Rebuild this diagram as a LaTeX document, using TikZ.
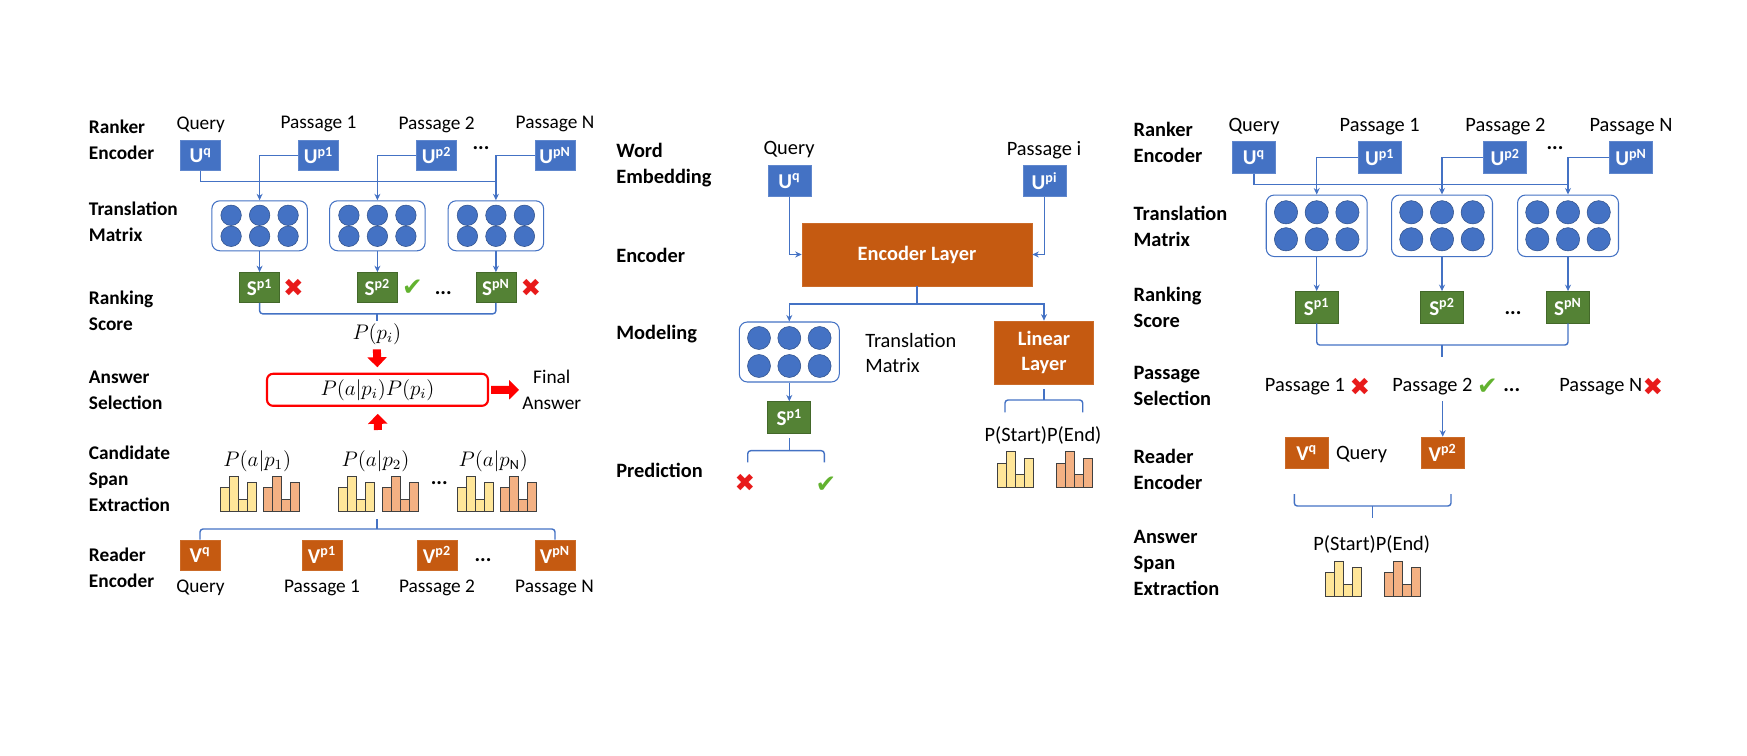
\documentclass[tikz,border=0pt]{standalone}
\usepackage{fontspec}
\setmainfont{Carlito}
\newfontfamily\symfont{DejaVu Sans}
\usetikzlibrary{arrows.meta, calc, positioning}

\definecolor{ublue}{HTML}{4472C4}
\definecolor{sgreen}{HTML}{548235}
\definecolor{vorange}{HTML}{C55A11}
\definecolor{barY}{HTML}{FFE699}
\definecolor{barO}{HTML}{F4B183}
\definecolor{barline}{HTML}{404040}
\definecolor{okgreen}{HTML}{62B22F}
\definecolor{badred}{HTML}{E81A1A}

\tikzset{
  lbl/.style={anchor=west, align=left, inner sep=0, font=\bfseries\fontsize{11}{14.7}\selectfont},
  lblr/.style={lbl, font=\bfseries\fontsize{11.6}{14.7}\selectfont},
  txt/.style={inner sep=0, font=\fontsize{11}{14.7}\selectfont},
  txtr/.style={inner sep=0, font=\fontsize{11.6}{14.7}\selectfont},
  box/.style={inner sep=0, minimum width=0.8cm, minimum height=0.6cm, text=white, font=\bfseries\fontsize{12}{12}\selectfont},
  bigbox/.style={box, minimum width=0.86cm, minimum height=0.63cm},
  ublk/.style={fill=ublue, draw=ublue!85!white},
  sblk/.style={fill=sgreen, draw=sgreen!80!black},
  vblk/.style={fill=vorange, draw=vorange!90!white},
  mat/.style={draw=ublue, fill=white, rounded corners=0.16cm, line width=0.6pt, minimum width=1.91cm, minimum height=1cm},
  bigmat/.style={mat, minimum width=2.02cm, minimum height=1.23cm},
  dot/.style={fill=ublue, draw=ublue!70!black, line width=0.3pt},
  link/.style={draw=ublue, line width=0.8pt},
  arr/.style={link, -{Stealth[length=1.3mm, width=1.2mm]}},
  brc/.style={link, rounded corners=0.06cm},
  fat/.style={draw=red, line width=0.16cm, -{Triangle[length=0.2cm, width=0.38cm]}},
  no/.style={inner sep=0, text=badred, font=\symfont\fontsize{14}{14}\selectfont},
  yes/.style={inner sep=0, text=okgreen, font=\symfont\fontsize{14}{14}\selectfont},
  more/.style={inner sep=0, font=\bfseries\fontsize{12}{12}\selectfont},
  mth/.style={inner sep=0, font=\fontsize{12}{12}\selectfont},
  histo/.pic={
    \foreach \h [count=\i from 0] in {24,35.5,12.3,29}
      \draw[barline, fill=#1, line width=0.5pt] (\i*9,0) rectangle ++(9,-\h);
  }
}

\begin{document}
\begin{tikzpicture}[x=0.02cm, y=-0.02cm]
\useasboundingbox (0,0) rectangle (1747,756);

% ---------- left: ranker + reader ----------
\node[lbl] (la) at (88.6,140) {Ranker\\Encoder};
\node[lbl] (lb) at (88.6,221.7) {Translation\\Matrix};
\node[lbl] (lc) at (88.6,311) {Ranking\\Score};
\node[lbl] (ld) at (88.6,390) {Answer\\Selection};
\node[lbl] (le) at (88.6,479) {Candidate\\Span\\Extraction};
\node[lbl] (lf) at (88.6,568) {Reader\\Encoder};

\node[txt] (tq) at (200.7,124.4) {Query};
\node[txt] (t1) at (318.5,124.4) {Passage 1};
\node[txt] (t2) at (436.6,124.4) {Passage 2};
\node[txt] (tn) at (555,124.4) {Passage N};
\node[box, ublk] (uq) at (200.7,155.6) {U\textsuperscript{q}};
\node[box, ublk] (u1) at (318.5,155.6) {U\textsuperscript{p1}};
\node[box, ublk] (u2) at (436.6,155.6) {U\textsuperscript{p2}};
\node[more] (d1) at (481,148) {...};
\node[box, ublk] (un) at (555,155.6) {U\textsuperscript{pN}};

\node[mat] (m1) at (259.6,225.8) {};
\node[mat] (m2) at (377.4,225.8) {};
\node[mat] (m3) at (495.9,225.8) {};
\foreach \m in {m1,m2,m3}
  \foreach \dx in {-28.5,0,28.5}
    \foreach \dy in {-10.5,10.5}
      \draw[dot] (\m) ++(\dx,\dy) circle[radius=0.205cm];

\coordinate (jq) at (495.9,181.3);
\draw[link] (uq.south) |- (jq);
\draw[arr] (u1.west) -| (m1.north);
\draw[arr] (u2.west) -| (m2.north);
\draw[arr] (un.west) -| (m3.north);

\node[box, sblk] (s1) at (259.6,287.5) {S\textsuperscript{p1}};
\node[box, sblk] (s2) at (377.4,287.5) {S\textsuperscript{p2}};
\node[box, sblk] (sn) at (495.9,287.5) {S\textsuperscript{pN}};
\draw[arr] (m1.south) -- (s1.north);
\draw[arr] (m2.south) -- (s2.north);
\draw[arr] (m3.south) -- (sn.north);
\node[no] (x1) at (293.5,287.5) {✖};
\node[yes] (c2) at (412.3,287.5) {✔};
\node[more] (d2) at (443.3,293) {...};
\node[no] (xn) at (531,287.5) {✖};

\coordinate (ka) at (376.8,313.8);
\draw[brc] (s1.south) |- (ka) -| (sn.south);
\draw[link] (ka) -- ++(0,7.6);
\node[mth] (pp) at (376.8,334.5) {$P(p_i)$};

\node[draw=red, line width=1.2pt, rounded corners=0.12cm, minimum width=4.42cm, minimum height=0.64cm, mth] (ans) at (377.5,389.8) {$P(a|p_i)P(p_i)$};
\node[txt, align=center] (fin) at (551.8,390) {Final\\Answer};
\coordinate (upin) at (377.9,430);
\draw[fat, shorten <=0.08cm, shorten >=0.11cm] (pp.south) -- (ans.north);
\draw[fat, shorten >=0.14cm] (upin) -- (ans.south);
\draw[fat, shorten <=0.04cm, shorten >=0.06cm] (ans.east) -- (fin.west);

\node[mth] (pa1) at (257.3,460.9) {$P(a|p_1)$};
\node[mth] (pa2) at (375.5,460.9) {$P(a|p_2)$};
\node[mth] (pan) at (493.2,460.9) {$P(a|p_\mathrm{N})$};
\pic at (220.5,511.8) {histo=barY};
\pic at (263.5,511.8) {histo=barO};
\pic at (338.3,511.8) {histo=barY};
\pic at (382,511.8) {histo=barO};
\node[more] (d3) at (439.2,483) {...};
\pic at (457,511.8) {histo=barY};
\pic at (500,511.8) {histo=barO};

\node[box, vblk] (vq) at (200,555) {V\textsuperscript{q}};
\node[box, vblk] (v1) at (322,555) {V\textsuperscript{p1}};
\node[box, vblk] (v2) at (437,555) {V\textsuperscript{p2}};
\node[more] (d4) at (483,560) {...};
\node[box, vblk] (vn) at (555,555) {V\textsuperscript{pN}};
\coordinate (kb) at (376.8,529);
\draw[brc] (vq.north) |- (kb) -| (vn.north);
\draw[link] (kb) -- ++(0,-9.6);
\node[txt] (bq) at (200.5,587.6) {Query};
\node[txt] (b1) at (322,587.6) {Passage 1};
\node[txt] (b2) at (437,587.6) {Passage 2};
\node[txt] (bn) at (554.5,587.6) {Passage N};

% ---------- middle: single passage ----------
\node[lblr] (ma) at (616,165) {Word\\Embedding};
\node[lblr] (mb) at (616,255) {Encoder};
\node[lblr] (mc) at (616,334) {Modeling};
\node[lblr] (md) at (616,470) {Prediction};

\node[txtr] (wqt) at (789,150) {Query};
\node[txtr] (wit) at (1044,150) {Passage i};
\node[bigbox, ublk] (wq) at (789.5,181) {U\textsuperscript{q}};
\node[bigbox, ublk] (wi) at (1044.5,181) {U\textsuperscript{pi}};
\node[box, vblk, minimum width=4.6cm, minimum height=1.26cm, font=\bfseries\fontsize{11.6}{14.7}\selectfont] (enc) at (917,254.5) {Encoder Layer};
\draw[arr] (wq.south) |- (enc.west);
\draw[arr] (wi.south) |- (enc.east);

\node[mat, minimum width=2cm, minimum height=1.2cm] (tm) at (789.3,352) {};
\foreach \dx in {-30.3,0,30.3}
  \foreach \dy in {-14,14}
    \draw[dot] (tm) ++(\dx,\dy) circle[radius=0.23cm];
\node[txtr, anchor=west, align=left] (tmt) at (865,353) {Translation\\Matrix};
\node[box, vblk, align=center, minimum width=1.98cm, minimum height=1.26cm, font=\bfseries\fontsize{11.6}{14.7}\selectfont] (lin) at (1044,352.5) {Linear\\Layer};
\coordinate (fork) at (917,304);
\draw[link] (enc.south) -- (fork);
\draw[arr] (fork) -| (tm.north);
\draw[arr] (fork) -| (lin.north);

\node[bigbox, sblk] (sp) at (789.3,417.5) {S\textsuperscript{p1}};
\draw[arr] (tm.south) -- (sp.north);
\coordinate (kc) at (789.3,450.7);
\coordinate (kc1) at (747.7,462.3);
\coordinate (kc2) at (824.3,462.3);
\draw[brc] (kc1) |- (kc) -| (kc2);
\draw[link] (kc) -- ++(0,-12.4);
\node[no] (nx) at (745,483) {✖};
\node[yes] (ny) at (826,485) {✔};

\coordinate (kd) at (1044,400);
\coordinate (kd1) at (1005,412.3);
\coordinate (kd2) at (1082.7,412.3);
\draw[brc] (kd1) |- (kd) -| (kd2);
\draw[link] (kd) -- ++(0,-10.7);
\node[txtr] (se) at (1043,435) {P(Start)P(End)};
\pic at (997,487) {histo=barY};
\pic at (1056,487) {histo=barO};

% ---------- right: ranker, then reader ----------
\node[lblr] (ra) at (1133.3,142.5) {Ranker\\Encoder};
\node[lblr] (rb) at (1133.3,226) {Translation\\Matrix};
\node[lblr] (rc) at (1133.3,307.5) {Ranking\\Score};
\node[lblr] (rd) at (1133.3,386.3) {Passage\\Selection};
\node[lblr] (re) at (1133.3,469.7) {Reader\\Encoder};
\node[lblr] (rf) at (1133.3,562.8) {Answer\\Span\\Extraction};

\node[txtr] (cq) at (1254,126.7) {Query};
\node[txtr] (c1) at (1379.7,126.7) {Passage 1};
\node[txtr] (c2) at (1505.5,126.7) {Passage 2};
\node[txtr] (cn) at (1631,126.7) {Passage N};
\node[bigbox, ublk] (rq) at (1254,157.5) {U\textsuperscript{q}};
\node[bigbox, ublk] (r1) at (1379.7,157.5) {U\textsuperscript{p1}};
\node[bigbox, ublk] (r2) at (1505.3,157.5) {U\textsuperscript{p2}};
\node[more] (d5) at (1555,148) {...};
\node[bigbox, ublk] (rn) at (1631,157.5) {U\textsuperscript{pN}};

\node[bigmat] (rm1) at (1316.7,225.8) {};
\node[bigmat] (rm2) at (1442,225.8) {};
\node[bigmat] (rm3) at (1568,225.8) {};
\foreach \m in {rm1,rm2,rm3}
  \foreach \dx in {-30.7,0,30.7}
    \foreach \dy in {-13.5,13.5}
      \draw[dot] (\m) ++(\dx,\dy) circle[radius=0.233cm];

\coordinate (jr) at (1568,184.3);
\draw[link] (rq.south) |- (jr);
\draw[arr] (r1.west) -| (rm1.north);
\draw[arr] (r2.west) -| (rm2.north);
\draw[arr] (rn.west) -| (rm3.north);

\node[bigbox, sblk] (rs1) at (1316.7,307.2) {S\textsuperscript{p1}};
\node[bigbox, sblk] (rs2) at (1442,307.2) {S\textsuperscript{p2}};
\node[more] (d6) at (1513,313) {...};
\node[bigbox, sblk] (rsn) at (1568,307.2) {S\textsuperscript{pN}};
\draw[arr] (rm1.south) -- (rs1.north);
\draw[arr] (rm2.south) -- (rs2.north);
\draw[arr] (rm3.south) -- (rsn.north);

\coordinate (ke) at (1442,345);
\draw[brc] (rs1.south) |- (ke) -| (rsn.south);
\draw[link] (ke) -- ++(0,11.7);

\node[txtr] (ps1) at (1305,386.7) {Passage 1};
\node[no] (px1) at (1360,386.7) {✖};
\node[txtr] (ps2) at (1432.5,386.7) {Passage 2};
\node[yes] (pc2) at (1487.3,386.7) {✔};
\node[more] (d7) at (1511.7,390) {...};
\node[txtr] (psn) at (1600.8,386.7) {Passage N};
\node[no] (pxn) at (1653,386.7) {✖};

\node[bigbox, vblk] (rvq) at (1306.7,452.8) {V\textsuperscript{q}};
\node[txtr] (rvt) at (1361.5,455) {Query};
\node[bigbox, vblk] (rv2) at (1442.7,452.8) {V\textsuperscript{p2}};
\draw[arr, shorten <=0.12cm] (rv2.north |- ps2.south) -- (rv2.north);

\coordinate (kf) at (1372.7,506);
\coordinate (kf1) at (1294.3,494);
\coordinate (kf2) at (1451,494);
\draw[brc] (kf1) |- (kf) -| (kf2);
\draw[link] (kf) -- ++(0,12.3);
\node[txtr] (se2) at (1371.7,544) {P(Start)P(End)};
\pic at (1325.7,596.7) {histo=barY};
\pic at (1384.3,596.7) {histo=barO};
\end{tikzpicture}
\end{document}
